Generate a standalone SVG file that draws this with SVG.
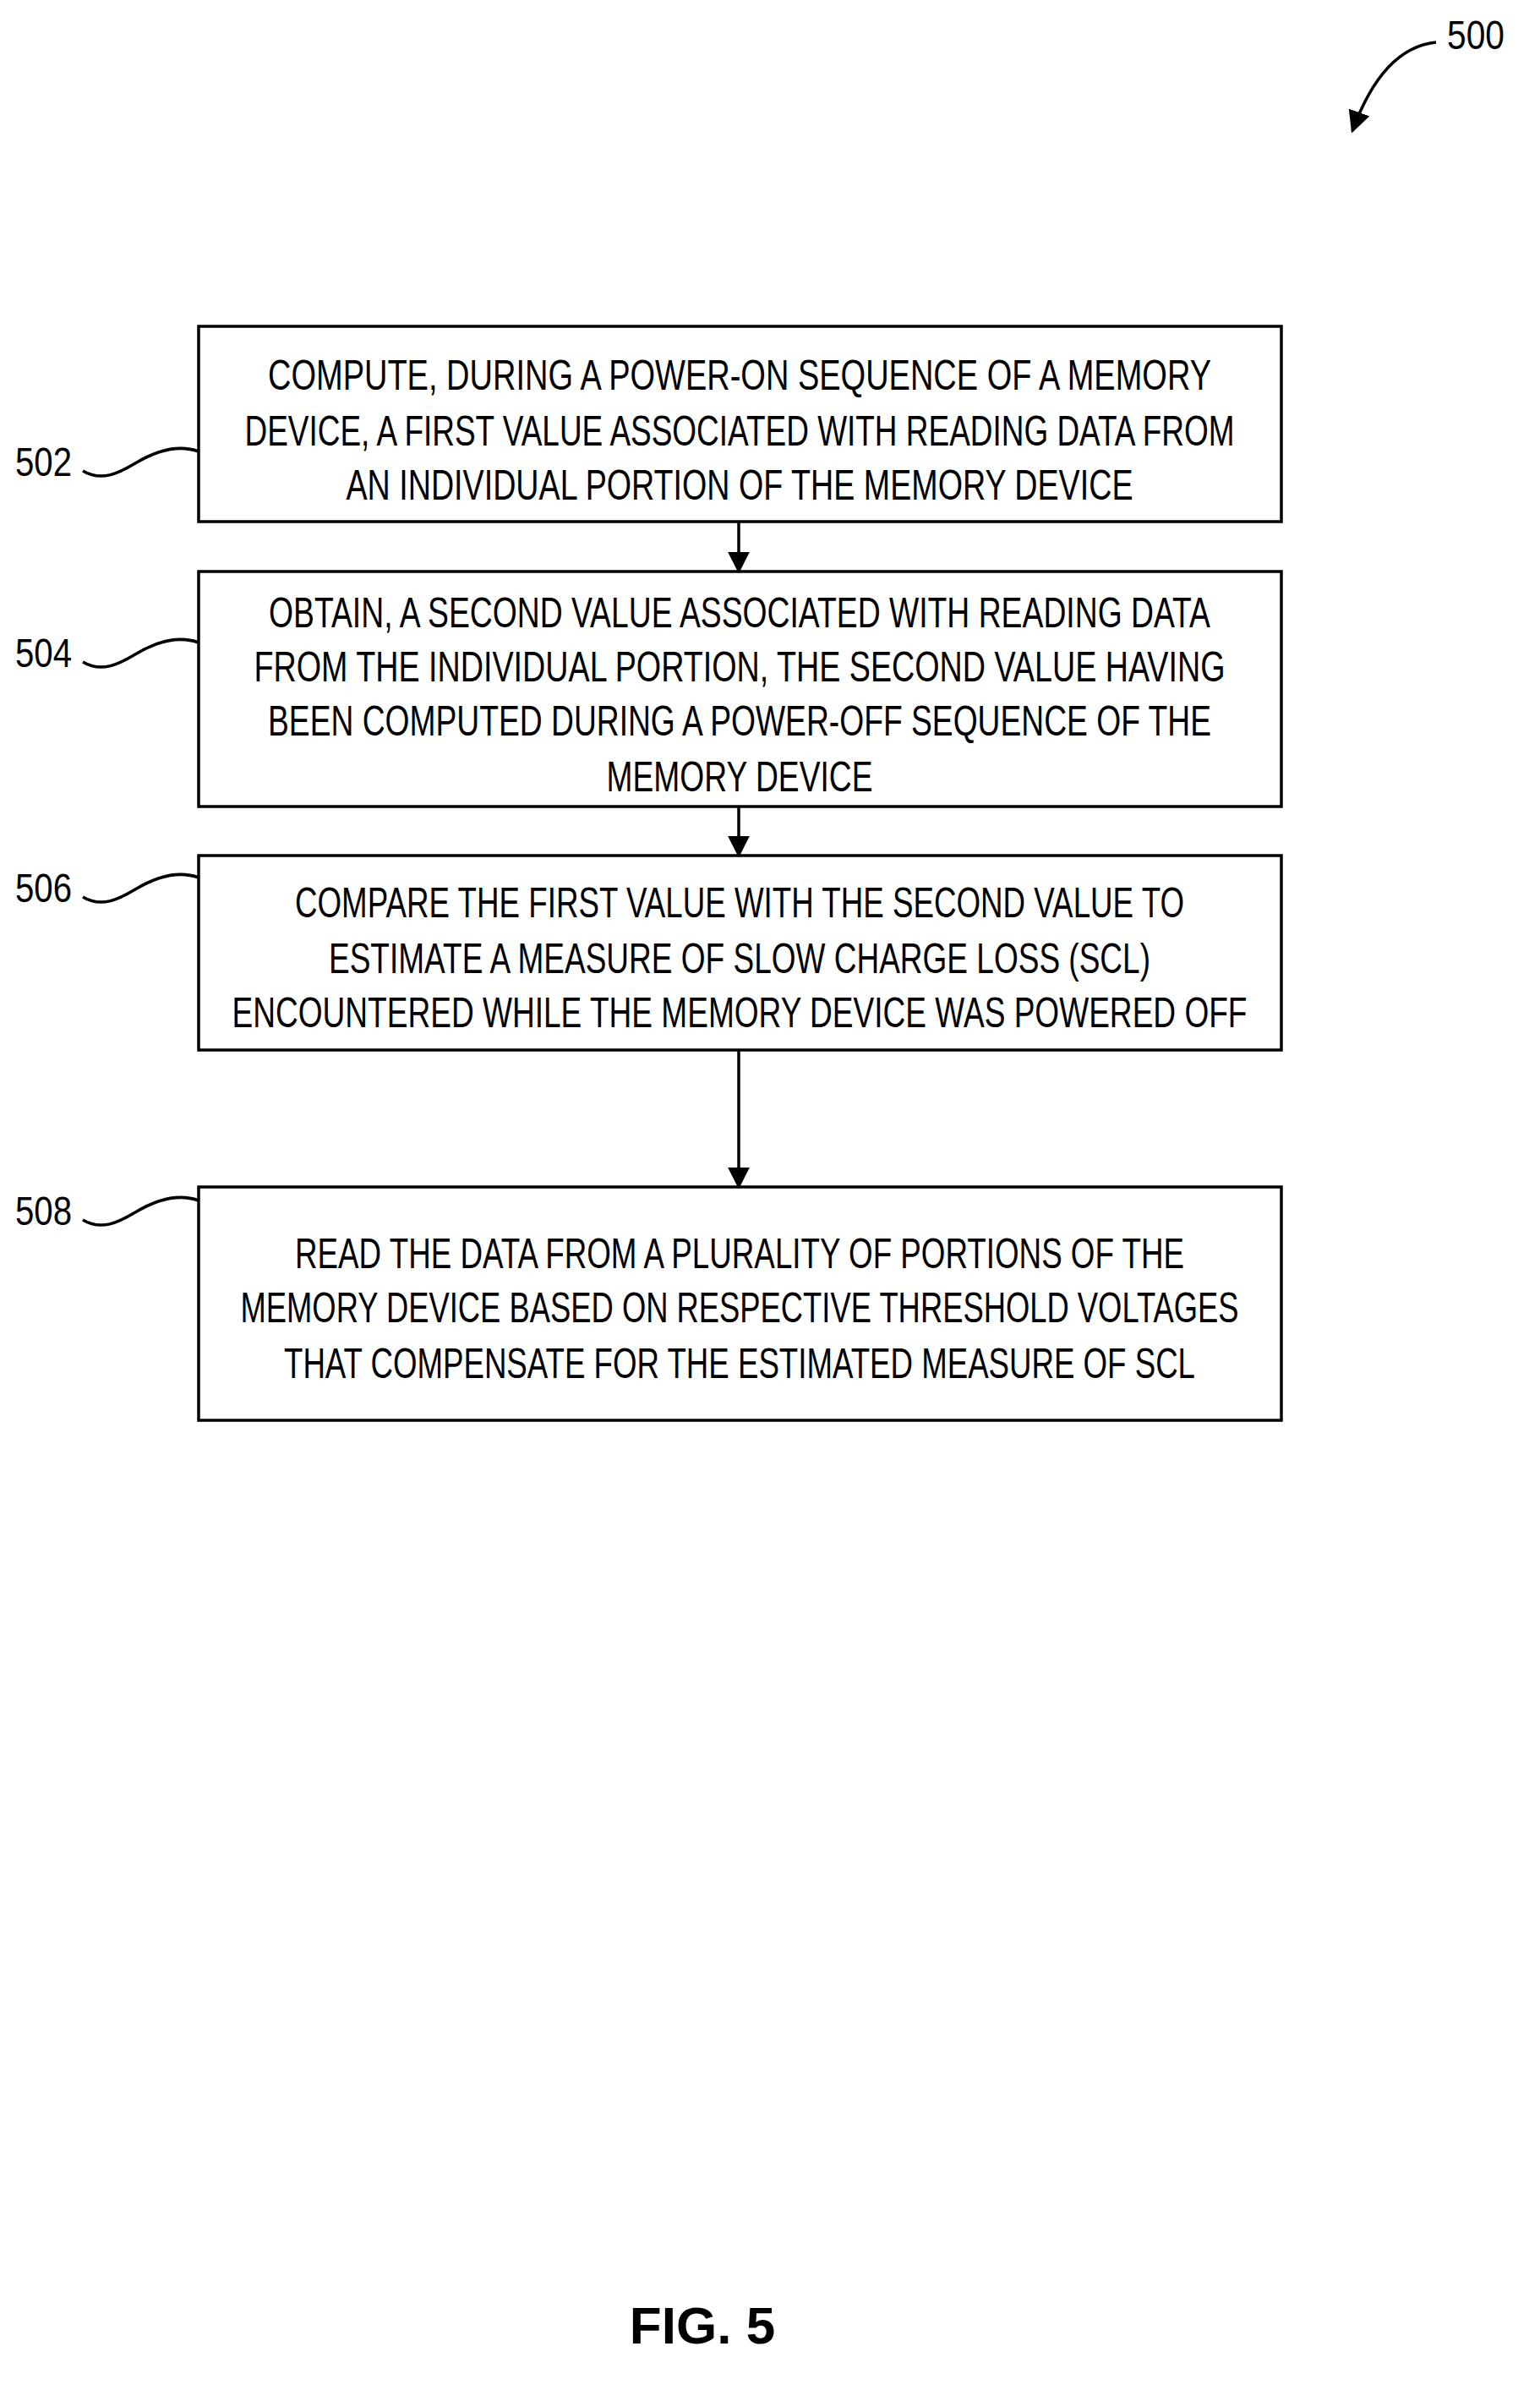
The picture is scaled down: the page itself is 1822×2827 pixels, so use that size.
<svg xmlns="http://www.w3.org/2000/svg" width="1822" height="2827" viewBox="0 0 1822 2827">
<style>
.b{fill:#fff;stroke:#000;stroke-width:3.5}
.t{font-family:"Liberation Sans",Arial,sans-serif;font-size:50px;text-anchor:middle;fill:#000}
.l{font-family:"Liberation Sans",Arial,sans-serif;font-size:48px;fill:#000}
.c{fill:none;stroke:#000;stroke-width:3.5}
</style>
<defs><marker id="a" markerWidth="10" markerHeight="10" refX="9" refY="5" orient="auto" markerUnits="userSpaceOnUse" viewBox="0 0 10 10"><path d="M0,0L10,5L0,10z"/></marker>
<marker id="ah" viewBox="0 0 10 10" refX="9" refY="5" markerWidth="26" markerHeight="26" markerUnits="userSpaceOnUse" orient="auto"><path d="M0,0L10,5L0,10z"/></marker></defs>
<rect width="1822" height="2827" fill="#fff"/>
<g id="n500"><text class="l" x="1712" y="58" textLength="68" lengthAdjust="spacingAndGlyphs">500</text></g>
<g id="n502"><rect class="b" x="235" y="386" width="1281" height="231"/>
<text class="t" x="875" y="461" textLength="1116" lengthAdjust="spacingAndGlyphs">COMPUTE, DURING A POWER-ON SEQUENCE OF A MEMORY</text>
<text class="t" x="875" y="527" textLength="1171" lengthAdjust="spacingAndGlyphs">DEVICE, A FIRST VALUE ASSOCIATED WITH READING DATA FROM</text>
<text class="t" x="875" y="591" textLength="931" lengthAdjust="spacingAndGlyphs">AN INDIVIDUAL PORTION OF THE MEMORY DEVICE</text>
<text class="l" x="18" y="563" textLength="67" lengthAdjust="spacingAndGlyphs">502</text></g>
<g id="n504"><rect class="b" x="235" y="676" width="1281" height="278"/>
<text class="t" x="875" y="742" textLength="1114" lengthAdjust="spacingAndGlyphs">OBTAIN, A SECOND VALUE ASSOCIATED WITH READING DATA</text>
<text class="t" x="875" y="806" textLength="1149" lengthAdjust="spacingAndGlyphs">FROM THE INDIVIDUAL PORTION, THE SECOND VALUE HAVING</text>
<text class="t" x="875" y="870" textLength="1116" lengthAdjust="spacingAndGlyphs">BEEN COMPUTED DURING A POWER-OFF SEQUENCE OF THE</text>
<text class="t" x="875" y="936" textLength="315" lengthAdjust="spacingAndGlyphs">MEMORY DEVICE</text>
<text class="l" x="18" y="789" textLength="67" lengthAdjust="spacingAndGlyphs">504</text></g>
<g id="n506"><rect class="b" x="235" y="1012" width="1281" height="230"/>
<text class="t" x="875" y="1085" textLength="1052" lengthAdjust="spacingAndGlyphs">COMPARE THE FIRST VALUE WITH THE SECOND VALUE TO</text>
<text class="t" x="875" y="1151" textLength="972" lengthAdjust="spacingAndGlyphs">ESTIMATE A MEASURE OF SLOW CHARGE LOSS (SCL)</text>
<text class="t" x="875" y="1215" textLength="1201" lengthAdjust="spacingAndGlyphs">ENCOUNTERED WHILE THE MEMORY DEVICE WAS POWERED OFF</text>
<text class="l" x="18" y="1067" textLength="67" lengthAdjust="spacingAndGlyphs">506</text></g>
<g id="n508"><rect class="b" x="235" y="1404" width="1281" height="276"/>
<text class="t" x="875" y="1500" textLength="1052" lengthAdjust="spacingAndGlyphs">READ THE DATA FROM A PLURALITY OF PORTIONS OF THE</text>
<text class="t" x="875" y="1564" textLength="1181" lengthAdjust="spacingAndGlyphs">MEMORY DEVICE BASED ON RESPECTIVE THRESHOLD VOLTAGES</text>
<text class="t" x="875" y="1630" textLength="1078" lengthAdjust="spacingAndGlyphs">THAT COMPENSATE FOR THE ESTIMATED MEASURE OF SCL</text>
<text class="l" x="18" y="1449" textLength="67" lengthAdjust="spacingAndGlyphs">508</text></g>
<g id="connectors">
<path class="c" d="M1699,50 C1650,55 1620,100 1600,155" marker-end="url(#ah)"/>
<path class="c" d="M98,557 C120,570 140,560 160,548 C185,533 210,525 235,534"/>
<path class="c" d="M98,783 C120,796 140,786 160,774 C185,759 210,751 235,760"/>
<path class="c" d="M98,1061 C120,1074 140,1064 160,1052 C185,1037 210,1029 235,1038"/>
<path class="c" d="M98,1443 C120,1456 140,1446 160,1434 C185,1419 210,1411 235,1420"/>
<path class="c" d="M874,617V676" marker-end="url(#ah)"/>
<path class="c" d="M874,954V1012" marker-end="url(#ah)"/>
<path class="c" d="M874,1242V1404" marker-end="url(#ah)"/>
</g>
<text x="831" y="2772" font-family="Liberation Sans,Arial,sans-serif" font-weight="bold" font-size="62" text-anchor="middle">FIG. 5</text>
</svg>
